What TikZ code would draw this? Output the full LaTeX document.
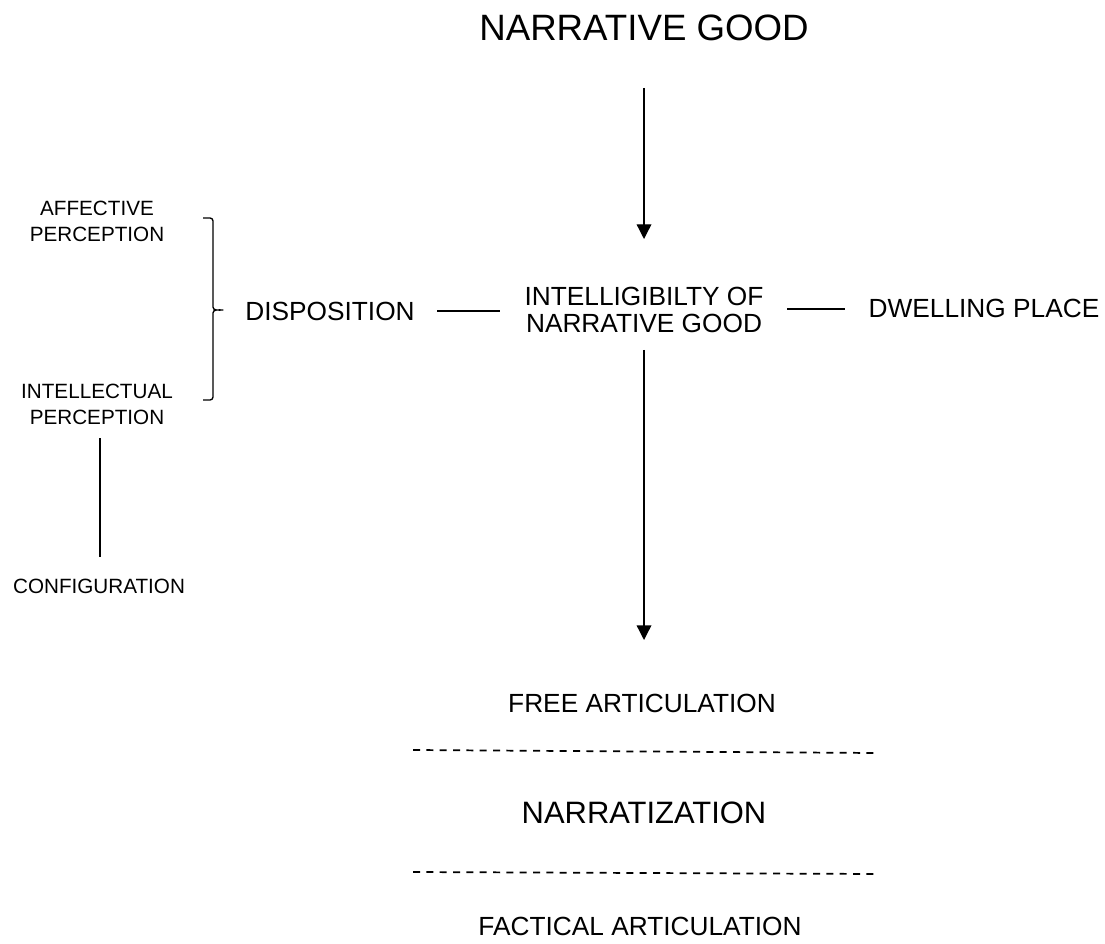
\documentclass[tikz,border=0pt]{standalone}
\usepackage{fontspec}
\setmainfont{Liberation Sans}
\usetikzlibrary{arrows.meta}
\begin{document}
\begin{tikzpicture}[x=0.75pt,y=-0.75pt,
  lbl/.style={inner sep=0pt,align=center},
  huge/.style={lbl,font=\fontsize{27.5}{33}\selectfont},
  big/.style={lbl,font=\fontsize{23.2}{28}\selectfont},
  mid/.style={lbl,font=\fontsize{19.7}{20.25}\selectfont},
  small/.style={lbl,font=\fontsize{15.5}{19.5}\selectfont},
  link/.style={line width=1pt},
  flow/.style={line width=1pt,-{Triangle[width=11pt,length=11pt]}},
  sep/.style={line width=1.3pt,dash pattern=on 5.25pt off 4.75pt}]
\useasboundingbox (0,0) rectangle (1105,944);

% labels
\node[huge] (good) at (644,28) {NARRATIVE GOOD};
\node[mid] (intel) at (644,310) {INTELLIGIBILTY OF\\NARRATIVE GOOD};
\node[mid] (disp) at (330,311) {DISPOSITION};
\node[mid] (dwell) at (984,308) {DWELLING PLACE};
\node[small] (aff) at (97,221) {AFFECTIVE\\PERCEPTION};
\node[small] (intp) at (97,404) {INTELLECTUAL\\PERCEPTION};
\node[small] (conf) at (99,586) {CONFIGURATION};
\node[mid] (free) at (642,703) {FREE ARTICULATION};
\node[big] (narr) at (644,813) {NARRATIZATION};
\node[mid] (fact) at (640,926) {FACTICAL ARTICULATION};

% vertical flow
\coordinate (a1s) at (644,88);
\coordinate (a1e) at (644,239);
\coordinate (a2s) at (644,350);
\coordinate (a2e) at (644,640);
\draw[flow] (a1s) -- (a1e);
\draw[flow] (a2s) -- (a2e);

% horizontal links
\draw[link] (437,311) -- (500,311);
\draw[link] (787,309) -- (845,309);

% link to configuration
\draw[link] (100,438) -- (100,557);

% brace grouping the two perceptions
\draw[link,line join=round] (203,218) -- (210,218) to[out=0,in=90] (213,221)
  -- (213,307) to[out=-90,in=180] (223,310) to[out=180,in=90] (213,313)
  -- (213,397) to[out=-90,in=0] (210,400) -- (203,400);

% separators
\coordinate (d1a) at (413,750);
\coordinate (d1b) at (877,753);
\coordinate (d2a) at (413,872);
\coordinate (d2b) at (877,874);
\draw[sep] (d1a) -- (d1b);
\draw[sep] (d2a) -- (d2b);
\end{tikzpicture}
\end{document}
